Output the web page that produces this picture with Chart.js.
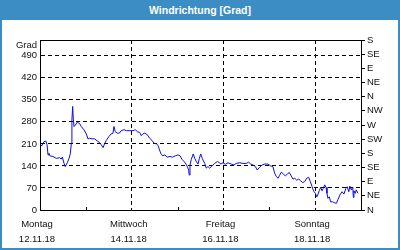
<!DOCTYPE html>
<html><head><meta charset="utf-8">
<script src="https://cdn.jsdelivr.net/npm/chart.js@4/dist/chart.umd.min.js"></script>
<style>
html,body{margin:0;padding:0;background:#fff;}
#hdr{position:absolute;left:0;top:0;width:400px;height:20px;background:#3c8dc4;color:#fff;font:bold 10.5px "Liberation Sans",Arial,sans-serif;text-align:center;line-height:20px;}
#panel{position:absolute;left:0;top:20px;width:400px;height:230px;box-sizing:border-box;border:2px solid #3c8dc4;border-top:none;background:#fff;}
#c{display:block;}
</style></head>
<body>
<div id="hdr">Windrichtung [Grad]</div>
<div id="panel"><canvas id="c" width="396" height="228"></canvas></div>
<script>
const hours = [0.4,1.0,2.1,3.1,3.7,4.2,4.7,5.2,6.8,8.5,10.3,11.1,11.7,12.6,13.2,14.3,15.2,15.9,16.4,16.7,17.1,17.4,17.8,18.5,19.5,20.8,21.6,23.0,24.2,25.1,26.0,27.2,28.6,30.0,31.2,32.1,33.0,33.9,34.7,36.0,37.3,38.2,38.7,39.4,40.5,41.5,42.5,44.0,45.2,46.9,48.7,49.9,50.9,52.2,53.0,53.9,54.8,56.2,57.4,58.6,59.7,60.9,61.8,62.6,63.2,64.2,65.3,66.6,68.0,69.4,70.8,72.2,73.3,74.3,75.4,76.4,77.1,77.8,78.1,78.5,79.2,80.2,81.0,81.8,82.7,83.4,84.1,84.9,86.2,87.0,87.9,88.8,90.0,91.4,92.8,94.0,94.6,95.8,97.0,98.4,100.1,101.5,102.7,104.5,106.2,108.0,109.2,110.3,111.5,112.7,113.7,115.0,116.2,117.6,119.3,120.7,121.9,122.8,123.7,124.6,125.4,126.3,127.3,128.4,129.4,130.5,131.5,132.4,133.3,134.3,135.4,136.4,137.5,138.5,139.6,140.6,141.5,142.4,143.2,144.1,144.9,145.5,146.2,146.9,147.6,148.3,149.0,149.7,150.2,150.7,151.4,152.1,153.2,154.2,155.1,156.0,157.0,158.1,159.1,160.1,160.8,161.6,162.2,162.9,163.7,164.0,164.3,165.0,165.5,166.4];
const degrees = [207,204,217,219,207,175,180,172,170,164,166,162,168,148,138,150,164,180,212,286,329,292,265,270,279,274,265,255,242,226,228,226,226,219,214,207,198,212,221,233,242,244,265,249,244,244,252,255,252,252,252,255,249,246,236,242,244,239,228,221,212,210,205,190,180,172,175,168,170,168,172,175,172,161,154,146,138,127,111,143,161,178,164,154,146,164,178,164,148,133,138,133,140,148,154,150,146,150,145,150,146,143,148,150,148,148,152,146,143,138,127,136,143,146,146,140,138,117,106,101,110,120,115,108,114,119,108,98,101,95,98,93,87,90,101,104,90,74,60,53,42,50,62,72,61,69,80,72,53,37,42,26,26,23,21,34,48,58,51,69,74,58,76,64,72,40,61,53,64,53];

const dayTicks = [0,24,48,72,96,120,144,168];
const dayNames = ['Montag','','Mittwoch','','Freitag','','Sonntag',''];
const dayDates = ['12.11.18','','14.11.18','','16.11.18','','18.11.18',''];
const majorDays = [48,96,144];
const minorDays = [24,72,120,168];
const leftTicks = [0,70,140,210,280,350,420,490];
const rightTicks = [0,45,90,135,180,225,270,315,360,405,450,495,540];
const rightLabels = ['N','NE','E','SE','S','SW','W','NW','N','NE','E','SE','S'];
const unitLabel = 'Grad';
const yMax = 540, xMax = 168;

const FONT = {family:'"Liberation Sans", Arial, sans-serif', size:9.5};
const TXT = '#111';

const boxPlugin = {
  id:'box',
  afterDraw(chart){
    const {ctx, chartArea:a, scales} = chart;
    ctx.save();
    ctx.strokeStyle = '#000'; ctx.lineWidth = 1;
    ctx.beginPath();
    ctx.moveTo(Math.round(a.left)+0.5, Math.round(a.top)+0.5);
    ctx.lineTo(Math.round(a.right)+0.5, Math.round(a.top)+0.5);
    ctx.stroke();
    const bottom = Math.round(a.bottom);
    minorDays.forEach(d=>{
      const x = Math.round(scales.x.getPixelForValue(d))+0.5;
      ctx.beginPath(); ctx.moveTo(x,bottom); ctx.lineTo(x,bottom-3); ctx.stroke();
    });
    ctx.fillStyle = TXT;
    ctx.font = '9.5px "Liberation Sans", Arial, sans-serif';
    ctx.textAlign = 'right'; ctx.textBaseline = 'middle';
    ctx.fillText(unitLabel, a.left-3, a.top+5);
    ctx.restore();
  }
};

new Chart(document.getElementById('c'), {
  type:'line',
  data:{datasets:[{
    data: hours.map((h,i)=>({x:h, y:degrees[i]})),
    borderColor:'#0a0af0', borderWidth:1, pointRadius:0, tension:0, fill:false
  }]},
  options:{
    responsive:false, animation:false,
    layout:{padding:{top:20, left:0, right:0, bottom:0}},
    plugins:{legend:{display:false}, tooltip:{enabled:false}},
    scales:{
      x:{type:'linear', min:0, max:xMax,
        afterBuildTicks(s){ s.ticks = dayTicks.map(v=>({value:v})); },
        afterFit(s){ s.height = 38; },
        grid:{drawTicks:false, color:c=> majorDays.includes(c.tick && c.tick.value) ? '#000' : 'rgba(0,0,0,0)', lineWidth:1},
        border:{display:true, color:'#000', width:1, dash:[4,3]},
        ticks:{autoSkip:false, maxRotation:0, padding:7, color:TXT, font:{...FONT, lineHeight:1.55}, labelOffset:-3,
          callback:(v,i)=>{ const k = dayTicks.indexOf(v); return (k>=0 && dayNames[k]) ? [dayNames[k], dayDates[k]] : ''; }}
      },
      y:{type:'linear', position:'left', min:0, max:yMax,
        afterBuildTicks(s){ s.ticks = leftTicks.map(v=>({value:v})); },
        afterFit(s){ s.width = 38; },
        grid:{drawTicks:false, color:c=> (c.tick && c.tick.value===0) ? 'rgba(0,0,0,0)' : '#000', lineWidth:1},
        border:{display:true, color:'#000', width:1, dash:[4,3]},
        ticks:{autoSkip:false, padding:3, color:TXT, font:FONT, callback:v=>String(v)}
      },
      y2:{type:'linear', position:'right', min:0, max:yMax,
        afterBuildTicks(s){ s.ticks = rightTicks.map(v=>({value:v})); },
        afterFit(s){ s.width = 37; },
        grid:{drawOnChartArea:false, drawTicks:true, tickLength:4, color:'#000'},
        border:{display:true, color:'#000', width:1},
        ticks:{autoSkip:false, padding:2, color:TXT, font:FONT, callback:v=>{ const k = rightTicks.indexOf(v); return k>=0 ? rightLabels[k] : ''; }}
      }
    }
  },
  plugins:[boxPlugin]
});
</script>
</body></html>
